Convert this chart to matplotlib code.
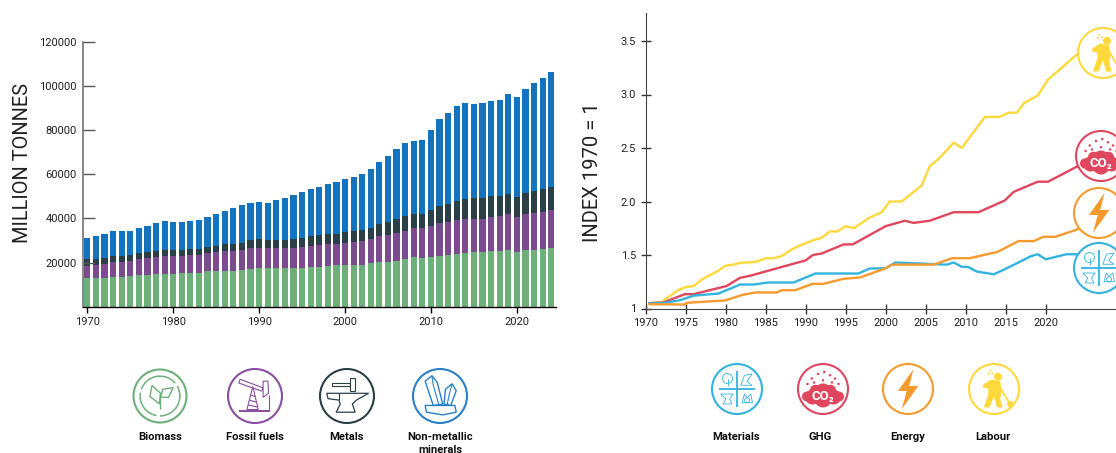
import matplotlib
matplotlib.use('Agg')
import matplotlib.pyplot as plt
from matplotlib.patches import Circle, Polygon, Arc
import numpy as np

plt.rcParams['font.family'] = ['Roboto', 'DejaVu Sans']

W, H = 1116, 453

# left chart: tops of the stacked bars
years = list(range(1970, 2025))
biomass_top = [12800, 12800, 12800, 13400, 13600, 13900, 14200, 14300, 14600, 14600, 14600,
               15100, 15400, 15400, 16000, 16100, 16300, 16300, 16400, 16900, 17300, 17300,
               17300, 17300, 17400, 17600, 18200, 18200, 18500, 18700, 18700, 18900, 19100,
               19600, 20200, 20400, 20800, 21400, 22300, 22000, 22300, 23100, 23400, 24000,
               24400, 24600, 24900, 25300, 25300, 25800, 24900, 25600, 25900, 26200, 26700]
fossil_top = [18500, 19000, 19300, 20200, 20400, 20700, 21400, 22000, 22500, 22800, 22800,
              22900, 23200, 23200, 24300, 24700, 25000, 25300, 25900, 26500, 26800, 26400,
              26400, 26400, 26800, 27000, 27700, 27900, 28400, 28500, 29000, 29400, 29700,
              30800, 32000, 32400, 33300, 34400, 35600, 35600, 36500, 37900, 38300, 39200,
              39700, 39800, 39500, 40400, 41000, 41800, 40400, 41800, 42400, 42800, 43700]
metals_top = [21400, 21700, 22200, 23100, 23100, 23400, 24100, 24600, 25200, 25600, 25600,
              25800, 26200, 26200, 27100, 27600, 28200, 28500, 29000, 30200, 30600, 30200,
              30200, 30200, 30500, 31100, 32100, 32400, 32900, 33000, 33800, 34200, 34700,
              35700, 37400, 38200, 39700, 41000, 42200, 42200, 43700, 45700, 46400, 48000,
              48700, 49000, 49200, 50100, 50200, 51100, 49800, 51600, 52500, 53400, 54300]
nonmetal_top = [30900, 32000, 32700, 34500, 34500, 34400, 35700, 36600, 38000, 38600, 38500,
                38500, 38600, 39200, 40700, 41900, 43300, 44600, 46000, 46900, 47400, 46900,
                48400, 49200, 50700, 52000, 53400, 54400, 55500, 56500, 57800, 58700, 59900,
                62400, 65700, 68200, 71300, 74000, 75200, 75700, 79800, 84900, 87500, 90800,
                92100, 92000, 92300, 93300, 93800, 96100, 94900, 98800, 101200, 103600, 106500]
stack_ticks = [20000, 40000, 60000, 80000, 100000, 120000]
stack_xticks = [1970, 1980, 1990, 2000, 2010, 2020]

# right chart: kinks of each line as (year, index)
labour_x = [1970.5, 1972, 1973, 1974, 1975, 1976, 1977, 1978, 1979, 1980, 1981, 1982, 1983, 1984,
            1985, 1986, 1987, 1988, 1989, 1990, 1991, 1992, 1993, 1994, 1995, 1996, 1997, 1998,
            1999.5, 2000.5, 2002, 2004.5, 2005.5, 2006.5, 2008.5, 2009.5, 2012.4, 2014.2, 2015.4,
            2016.4, 2017.3, 2019, 2020.3, 2024]
labour_y = [1.05, 1.06, 1.115, 1.17, 1.20, 1.21, 1.27, 1.31, 1.35, 1.40, 1.41, 1.43, 1.43, 1.44,
            1.47, 1.47, 1.49, 1.54, 1.58, 1.61, 1.64, 1.66, 1.72, 1.72, 1.77, 1.75, 1.80, 1.85,
            1.90, 2.00, 2.00, 2.15, 2.33, 2.39, 2.55, 2.50, 2.79, 2.79, 2.83, 2.83, 2.92, 2.99,
            3.14, 3.38]
ghg_x = [1970.5, 1972.2, 1974.9, 1976, 1980.1, 1981.8, 1983, 1990, 1990.9, 1992, 1994.7, 1995.9,
         1998, 2000, 2002.4, 2003.5, 2005.5, 2008.5, 2011.6, 2014.9, 2016, 2019, 2020.3, 2024]
ghg_y = [1.05, 1.056, 1.134, 1.134, 1.21, 1.287, 1.305, 1.45, 1.50, 1.514, 1.598, 1.60,
         1.687, 1.77, 1.82, 1.80, 1.82, 1.90, 1.90, 2.01, 2.09, 2.185, 2.185, 2.33]
materials_x = [1970.5, 1972.4, 1974.3, 1976, 1979.1, 1981.8, 1983.5, 1985.3, 1988.5, 1991.2, 1996.6,
               1998, 2000, 2001.2, 2007.6, 2008.5, 2009.5, 2010.3, 2011.4, 2013.5, 2014.7, 2018.2,
               2019, 2020, 2022.6, 2024]
materials_y = [1.047, 1.053, 1.078, 1.12, 1.14, 1.224, 1.224, 1.243, 1.243, 1.327, 1.327,
               1.374, 1.376, 1.43, 1.41, 1.43, 1.39, 1.388, 1.345, 1.32, 1.36, 1.49,
               1.507, 1.46, 1.507, 1.507]
energy_x = [1970.5, 1974.9, 1975.1, 1979.9, 1982, 1983.7, 1986.4, 1987, 1988.7, 1990.8, 1992.2,
            1994.7, 1996.8, 2000, 2000.8, 2006, 2008.3, 2010.5, 2014, 2016.6, 2018.5, 2019.7,
            2021.2, 2024]
energy_y = [1.04, 1.037, 1.053, 1.075, 1.125, 1.15, 1.15, 1.171, 1.171, 1.23, 1.23,
            1.277, 1.29, 1.376, 1.41, 1.41, 1.47, 1.47, 1.53, 1.63, 1.63, 1.67, 1.67, 1.74]
index_ticks = [1, 1.5, 2.0, 2.5, 3.0, 3.5]
index_ticklabels = ['1', '1.5', '2.0', '2.5', '3.0', '3.5']
index_xticks = list(range(1970, 2021, 5))

GREEN, PURPLE, DARK, BLUE = '#6DB07A', '#7B4A8F', '#2B3F47', '#1473BF'
YELLOW, RED, ORANGE, CYAN = '#FFD93B', '#E0475F', '#F79A2E', '#33B4DE'


def axes_px(fig, left, right, top, bottom):
    return fig.add_axes([left / W, 1 - bottom / H, (right - left) / W, (bottom - top) / H])


fig = plt.figure(figsize=(W / 100, H / 100), dpi=100)

# stacked bars
ax = axes_px(fig, 83, 556, 41.7, 306.7)
tops = [biomass_top, fossil_top, metals_top, nonmetal_top]
bottom = np.zeros(len(years))
for top, col in zip(tops, [GREEN, PURPLE, DARK, BLUE]):
    top = np.array(top)
    ax.bar(years, top - bottom, bottom=bottom, width=0.72, color=col, linewidth=0)
    bottom = top
ax.set_xlim(1969.5, 2024.56)
ax.set_ylim(0, 120000)
ax.set_yticks(stack_ticks)
ax.set_xticks(stack_xticks)
ax.tick_params(axis='y', direction='in', length=8.5, width=1, color='#555555', labelsize=8, pad=4.5,
               labelcolor='#222222')
ax.tick_params(axis='x', direction='out', length=4.5, width=1, labelsize=8, pad=3, labelcolor='#222222')
for s in ['top', 'right']:
    ax.spines[s].set_visible(False)
ax.spines['left'].set_color('#666666')
ax.spines['left'].set_linewidth(1.1)
ax.spines['bottom'].set_linewidth(1)

# index lines
ax2 = axes_px(fig, 645.7, W, 13, 308.5)
line_lw = 1.7
ax2.plot(labour_x, labour_y, color=YELLOW, lw=line_lw, solid_joinstyle='round')
ax2.plot(ghg_x, ghg_y, color=RED, lw=line_lw, solid_joinstyle='round')
ax2.plot(materials_x, materials_y, color=CYAN, lw=line_lw, solid_joinstyle='round')
ax2.plot(energy_x, energy_y, color=ORANGE, lw=line_lw, solid_joinstyle='round')
ax2.set_xlim(1970, 1970 + (W - 645.7) / 8)
ax2.set_ylim(1, 1 + 295.5 / 107)
ax2.set_xticks(index_xticks)
ax2.set_yticks(index_ticks)
ax2.set_yticklabels(index_ticklabels)
ax2.tick_params(axis='both', direction='inout', length=7, width=1, color='#333333', labelsize=8,
                labelcolor='#222222')
ax2.tick_params(axis='y', pad=3.5)
ax2.tick_params(axis='x', pad=3.5)
for s in ['top', 'right']:
    ax2.spines[s].set_visible(False)
ax2.spines['left'].set_color('#444444')
ax2.spines['bottom'].set_color('#444444')

# overlay in pixel coordinates for axis titles, icons and captions
ov = fig.add_axes([0, 0, 1, 1], zorder=5)
ov.set_xlim(0, W)
ov.set_ylim(H, 0)
ov.axis('off')
ov.patch.set_alpha(0)

ov.text(22.5, 162.5, 'MILLION TONNES', rotation=90, fontsize=14.4, color='#222222', ha='center', va='center')
ov.text(593, 172, 'INDEX 1970 = 1', rotation=90, fontsize=14.5, color='#222222', ha='center', va='center')


def poly(c, pts, fill=None, edge=None, lw=0.8, closed=True):
    cx, cy, r = c
    xy = [(cx + r * x, cy + r * y) for x, y in pts]
    ov.add_patch(Polygon(xy, closed=closed, facecolor=fill if fill else 'none',
                         edgecolor=edge if edge else 'none', linewidth=lw, zorder=7))


def dot(c, x, y, rad, fill=None, edge=None, lw=0.8):
    cx, cy, r = c
    ov.add_patch(Circle((cx + r * x, cy + r * y), rad * r, facecolor=fill if fill else 'none',
                        edgecolor=edge if edge else 'none', linewidth=lw, zorder=7))


def ring(cx, cy, r, col):
    ov.add_patch(Circle((cx, cy), r, facecolor='white', edgecolor=col, linewidth=1.5, zorder=6))
    return (cx, cy, r)


def icon_biomass(cx, cy, r, col):
    c = ring(cx, cy, r, col)
    for a0, a1 in [(200, 320), (330, 90), (100, 190)]:
        ov.add_patch(Arc((cx, cy), 1.5 * r, 1.5 * r, theta1=a0, theta2=a1, color=col, lw=1.1, zorder=7))
    poly(c, [(-0.02, 0.3), (-0.38, 0.02), (-0.3, -0.4), (0.02, -0.1)], edge=col, lw=1)
    poly(c, [(0.02, 0.05), (0.1, -0.25), (0.5, -0.32), (0.32, 0.05)], edge=col, lw=1)
    poly(c, [(0, -0.1), (0, 0.5)], edge=col, lw=1, closed=False)


def icon_fossil(cx, cy, r, col):
    c = ring(cx, cy, r, col)
    poly(c, [(-0.55, -0.62), (0.3, -0.3), (0.25, -0.18), (-0.6, -0.48)], edge=col)
    poly(c, [(0.3, -0.55), (0.48, -0.55), (0.5, -0.1), (0.3, 0.05), (0.3, -0.3)], edge=col)
    poly(c, [(-0.3, 0.5), (-0.08, -0.35), (0.12, 0.5)], edge=col)
    for y, x0, x1 in [(-0.05, -0.18, 0.02), (0.15, -0.22, 0.06), (0.33, -0.26, 0.1)]:
        poly(c, [(x0, y), (x1, y + 0.08)], edge=col, closed=False)
    poly(c, [(-0.6, 0.5), (0.55, 0.5), (0.55, 0.58), (-0.6, 0.58)], fill=col)
    poly(c, [(0.5, -0.05), (0.5, 0.5)], edge=col, closed=False)


def icon_metals(cx, cy, r, col):
    c = ring(cx, cy, r, col)
    poly(c, [(-0.55, -0.5), (0.1, -0.5), (0.1, -0.36), (-0.55, -0.36)], edge=col)
    poly(c, [(0.1, -0.66), (0.3, -0.66), (0.3, -0.2), (0.1, -0.2)], edge=col)
    poly(c, [(-0.75, -0.1), (0.8, -0.1), (0.35, 0.15), (0.2, 0.3), (0.3, 0.6), (-0.4, 0.6),
             (-0.25, 0.3), (-0.3, 0.15), (-0.7, 0.1)], edge=col, lw=0.9)
    poly(c, [(-0.3, -0.1), (-0.3, 0.15)], edge=col, closed=False)


def icon_minerals(cx, cy, r, col):
    c = ring(cx, cy, r, col)
    poly(c, [(-0.55, -0.55), (-0.3, -0.75), (-0.1, -0.5), (0.1, 0.3), (-0.25, 0.35)], edge=col, lw=1)
    poly(c, [(-0.3, -0.75), (-0.25, -0.4), (-0.05, 0.3)], edge=col, closed=False)
    poly(c, [(0.2, -0.25), (0.45, -0.45), (0.6, -0.2), (0.4, 0.35), (0.15, 0.3)], edge=col, lw=1)
    poly(c, [(0.45, -0.45), (0.35, -0.1), (0.27, 0.3)], edge=col, closed=False)
    poly(c, [(-0.55, 0.35), (0.55, 0.35), (0.6, 0.6), (0.1, 0.7), (-0.5, 0.6)], edge=col, lw=1)


def icon_materials(cx, cy, r, col):
    c = ring(cx, cy, r, col)
    poly(c, [(0, -0.72), (0, 0.72)], edge=col, lw=1.3, closed=False)
    poly(c, [(-0.72, 0), (0.72, 0)], edge=col, lw=1.3, closed=False)
    dot(c, -0.38, -0.42, 0.2, edge=col, lw=0.6)
    poly(c, [(-0.38, -0.42), (-0.38, -0.12)], edge=col, lw=0.6, closed=False)
    poly(c, [(0.15, -0.15), (0.3, -0.55), (0.6, -0.6), (0.4, -0.3), (0.6, -0.15)], edge=col, lw=0.6)
    poly(c, [(-0.65, 0.2), (-0.15, 0.2), (-0.3, 0.4), (-0.2, 0.6), (-0.55, 0.6), (-0.45, 0.4)], edge=col, lw=0.6)
    poly(c, [(0.2, 0.55), (0.3, 0.2), (0.4, 0.35), (0.55, 0.2), (0.62, 0.55)], edge=col, lw=0.6)
    dot(c, 0.4, 0.45, 0.1, edge=col, lw=0.6)


def icon_ghg(cx, cy, r, col):
    c = ring(cx, cy, r, col)
    for x, y, rad in [(-0.42, 0.32, 0.3), (0.42, 0.32, 0.3), (0, 0.14, 0.36), (0, 0.4, 0.34),
                      (-0.64, 0.3, 0.2), (0.64, 0.3, 0.2), (-0.3, 0.05, 0.22), (0.3, 0.05, 0.22)]:
        dot(c, x, y, rad, fill=col)
    for x, y in [(-0.62, -0.2), (-0.36, -0.26), (0, -0.35), (0.36, -0.26), (0.62, -0.2), (-0.2, -0.6),
                 (0.05, -0.68), (0.28, -0.55), (-0.45, -0.42), (0.48, -0.42)]:
        dot(c, x, y, 0.05, fill=col)
    ov.text(cx, cy + 0.3 * r, 'CO₂', color='white', fontsize=9.5, fontweight='bold', ha='center',
            va='center', zorder=8)


def icon_energy(cx, cy, r, col):
    c = ring(cx, cy, r, col)
    poly(c, [(0.22, -0.8), (-0.4, 0.08), (-0.05, 0.08), (-0.25, 0.8), (0.42, -0.12), (0.05, -0.12)], fill=col)


def icon_labour(cx, cy, r, col):
    c = ring(cx, cy, r, col)
    dot(c, 0.16, -0.49, 0.16, fill=col)
    poly(c, [(-0.12, -0.38), (0.25, -0.32), (0.3, 0.1), (0.25, 0.4), (0.34, 0.74), (0.12, 0.74), (0, 0.3),
             (-0.18, 0.74), (-0.4, 0.74), (-0.22, 0.18), (-0.24, -0.03), (-0.42, -0.05), (-0.45, -0.16)], fill=col)
    poly(c, [(0.22, -0.1), (0.58, 0.5)], edge=col, lw=1.3, closed=False)
    dot(c, 0.65, 0.6, 0.13, fill=col)
    for x, y in [(-0.15, -0.72), (-0.05, -0.62), (-0.22, -0.6)]:
        dot(c, x, y, 0.04, fill=col)


# bottom legend icons
icon_biomass(160, 396, 26.5, GREEN)
icon_fossil(255, 396, 27, '#8A4F9E')
icon_metals(347, 396, 27, DARK)
icon_minerals(440, 396, 27, '#2A80C8')
icon_materials(737, 389, 25, CYAN)
icon_ghg(823, 389, 25, RED)
icon_energy(908, 389, 25, ORANGE)
icon_labour(994, 389, 25, YELLOW)

# line end icons, cut by the right edge
icon_labour(1103, 53, 25, YELLOW)
icon_ghg(1101, 156, 25, RED)
icon_energy(1099, 213, 25, ORANGE)
icon_materials(1099, 268, 25, CYAN)

captions = [(160, 'Biomass'), (255, 'Fossil fuels'), (347, 'Metals'), (440, 'Non-metallic\nminerals'),
            (736, 'Materials'), (820, 'GHG'), (908, 'Energy'), (993, 'Labour')]
for x, label in captions:
    ov.text(x, 431.5, label, fontsize=8.1, fontweight='bold', color='#111111', ha='center', va='top',
            linespacing=1.45, clip_on=False)

fig.savefig('out.png', dpi=100)
